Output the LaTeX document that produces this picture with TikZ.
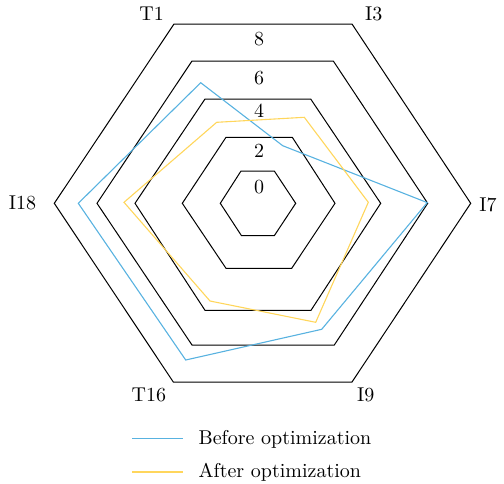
\documentclass[tikz,border=0pt]{standalone}
\definecolor{beforeblue}{RGB}{88,178,224}
\definecolor{afteryellow}{RGB}{255,214,92}
\begin{document}
\begin{tikzpicture}[x=0.5pt,y=0.5pt]
    \tikzstyle{every node}+=[inner sep=0pt]
    \tikzstyle{grid}=[black,line width=0.5pt,line join=miter]
    \tikzstyle{before}=[beforeblue,line width=0.55pt]
    \tikzstyle{after}=[afteryellow,line width=0.55pt]
    \useasboundingbox (0,0) rectangle (504,-483);
    % hexagons 0 .. 8
    \draw [grid] (220.3,-203.3) -- (241,-171) -- (274.3,-171) -- (295.7,-203.3) -- (274.3,-235.7) -- (241.5,-235.7) -- cycle;
    \draw [grid] (182.3,-203.3) -- (226,-137.3) -- (292.3,-137.3) -- (335,-203.3) -- (291.7,-268.3) -- (226,-268.3) -- cycle;
    \draw [grid] (135,-203.3) -- (205,-99) -- (310.7,-99) -- (380.7,-203.3) -- (311,-310.3) -- (205,-310.3) -- cycle;
    \draw [grid] (97,-203.3) -- (192,-61) -- (333.3,-61) -- (427.7,-203.3) -- (334.3,-345) -- (192,-345) -- cycle;
    \draw [grid] (54.3,-203.3) -- (174,-24) -- (352,-24) -- (470.7,-203.3) -- (352,-382) -- (173.3,-382) -- cycle;
    \draw (259,-187.5) node (v0) {0};
    \draw (259,-150.8) node (v2) {2};
    \draw (259,-111) node (v4) {4};
    \draw (259,-78.3) node (v6) {6};
    \draw (259,-38.7) node (v8) {8};
    \draw (151.7,-13.5) node (T1) {T1};
    \draw (373.8,-13.5) node (I3) {I3};
    \draw (488,-204.5) node (I7) {I7};
    \draw (365.8,-394.7) node (I9) {I9};
    \draw (148.8,-394.7) node (T16) {T16};
    \draw (22.5,-202.7) node (I18) {I18};
    % before optimization
    \coordinate (b1) at (200.7,-82.7);
    \coordinate (b2) at (282.7,-145.7);
    \coordinate (b3) at (427.2,-202.6);
    \coordinate (b4) at (321.7,-329.3);
    \coordinate (b5) at (185.7,-360);
    \coordinate (b6) at (78.3,-203.3);
    \draw [before] (b1) -- (b2) -- (b3) -- (b4) -- (b5) -- (b6) -- cycle;
    % after optimization
    \coordinate (a1) at (216.7,-122.3);
    \coordinate (a2) at (304.3,-117.3);
    \coordinate (a3) at (368.3,-202.3);
    \coordinate (a4) at (315.7,-322.3);
    \coordinate (a5) at (210,-301);
    \coordinate (a6) at (124,-202.3);
    \draw [after] (a1) -- (a2) -- (a3) -- (a4) -- (a5) -- (a6) -- cycle;
    % legend
    \coordinate (lb1) at (132.3,-438.7);
    \coordinate (lb2) at (183.3,-438.7);
    \coordinate (la1) at (132.3,-472);
    \coordinate (la2) at (183.3,-472);
    \draw [before] (lb1) -- (lb2);
    \draw [after] (la1) -- (la2);
    \draw (198.3,-444.5) node [anchor=base west] (tb) {Before optimization};
    \draw (198.3,-477.5) node [anchor=base west] (ta) {After optimization};
\end{tikzpicture}
\end{document}
